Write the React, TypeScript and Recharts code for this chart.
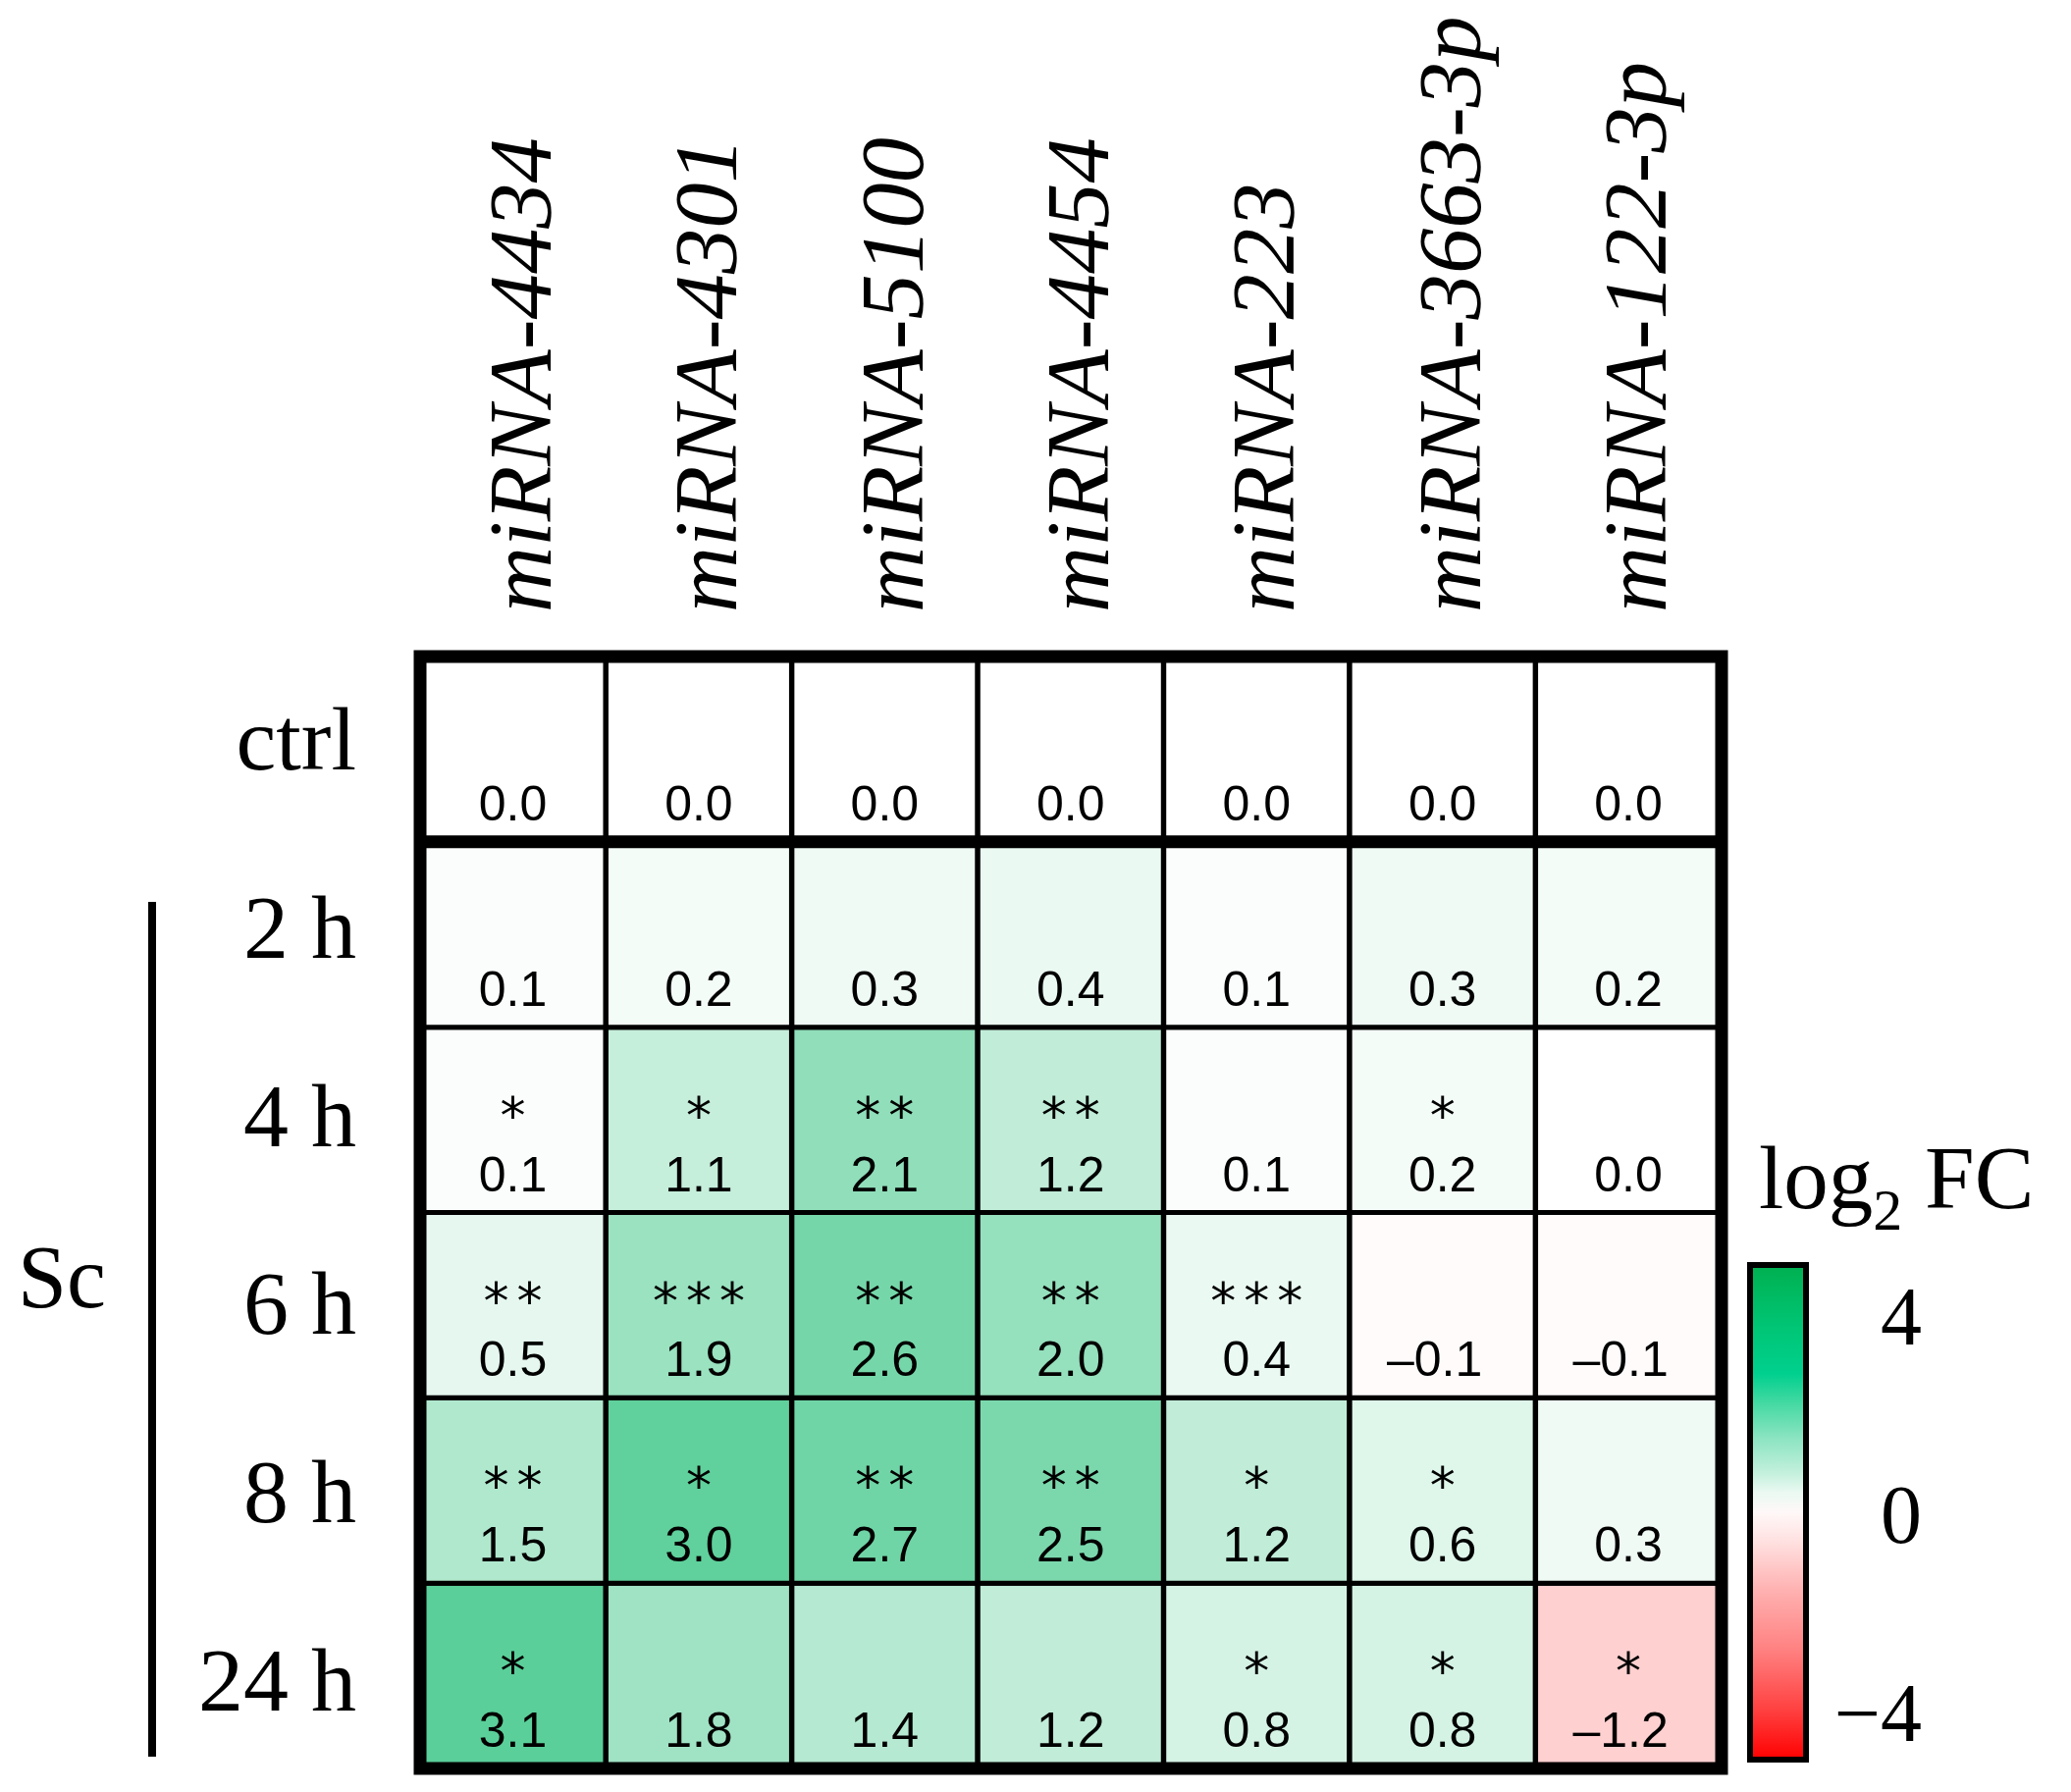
import React from 'react';
import { BarChart, Bar, XAxis, YAxis, Cell, LabelList, ReferenceLine, ReferenceArea } from 'recharts';

// ---------- data ----------
const miRNAs = ['miRNA-4434', 'miRNA-4301', 'miRNA-5100', 'miRNA-4454', 'miRNA-223', 'miRNA-3663-3p', 'miRNA-122-3p'];
const rowLabels = ['ctrl', '2 h', '4 h', '6 h', '8 h', '24 h'];

const ctrlValues = [0.0, 0.0, 0.0, 0.0, 0.0, 0.0, 0.0];
const h2Values = [0.1, 0.2, 0.3, 0.4, 0.1, 0.3, 0.2];
const h4Values = [0.1, 1.1, 2.1, 1.2, 0.1, 0.2, 0.0];
const h6Values = [0.5, 1.9, 2.6, 2.0, 0.4, -0.1, -0.1];
const h8Values = [1.5, 3.0, 2.7, 2.5, 1.2, 0.6, 0.3];
const h24Values = [3.1, 1.8, 1.4, 1.2, 0.8, 0.8, -1.2];

const ctrlStars = ['', '', '', '', '', '', ''];
const h2Stars = ['', '', '', '', '', '', ''];
const h4Stars = ['*', '*', '**', '**', '', '*', ''];
const h6Stars = ['**', '***', '**', '**', '***', '', ''];
const h8Stars = ['**', '*', '**', '**', '*', '*', ''];
const h24Stars = ['*', '', '', '', '*', '*', '*'];

const legendTicks = [4, 0, -4];
const legendTitle = 'log';
const legendSub = '2';
const legendTitleEnd = ' FC';
const groupLabel = 'Sc';

// rows top -> bottom
const rowValues = [ctrlValues, h2Values, h4Values, h6Values, h8Values, h24Values];
const rowStars = [ctrlStars, h2Stars, h4Stars, h6Stars, h8Stars, h24Stars];
const N_ROWS = rowLabels.length;

// table for the library: one entry per miRNA column, each row is a unit-height stacked segment
const table = miRNAs.map((name, i) => {
  const o: any = { name };
  for (let k = 0; k < N_ROWS; k++) {
    o[`cell_${k}`] = 1;
    o[`val_${k}`] = rowValues[k][i];
    o[`sig_${k}`] = rowStars[k][i];
  }
  return o;
});

// ---------- colour scale (read from cells) ----------
const POS_COLOR = [91, 207, 153]; // at +3.1
const POS_MAX = 3.1;
const NEG_COLOR = [255, 208, 208]; // at -1.2
const NEG_MAX = 1.2;
function cellColor(v: number) {
  const target = v >= 0 ? POS_COLOR : NEG_COLOR;
  const t = Math.min(1, v >= 0 ? v / POS_MAX : -v / NEG_MAX);
  const c = target.map((ch) => Math.round(255 + (ch - 255) * t));
  return `rgb(${c[0]},${c[1]},${c[2]})`;
}

const SERIF = '"Liberation Serif", "Times New Roman", serif';
const SANS = '"Liberation Sans", Arial, sans-serif';
const STAR_FONT = '"DejaVu Sans", sans-serif';

function fmt(v: number) {
  return v < 0 ? '\u2013' + Math.abs(v).toFixed(1) : v.toFixed(1);
}

function box(props: any) {
  const vb = props.viewBox && props.viewBox.width !== undefined ? props.viewBox : props;
  const x = Math.min(vb.x, vb.x + vb.width);
  const y = Math.min(vb.y, vb.y + vb.height);
  return { x, y, w: Math.abs(vb.width), h: Math.abs(vb.height) };
}

const ValueLabel = (props: any) => {
  const { value } = props;
  if (value === undefined || value === null || value === '') return null;
  const b = box(props);
  const cx = b.x + b.w / 2 + (value < 0 ? -8 : 0);
  const by = b.y + b.h - 22;
  return (
    <text x={cx} y={by} textAnchor="middle" fontFamily={SANS} fontSize={50} fill="#000">
      {fmt(value)}
    </text>
  );
};

const StarLabel = (props: any) => {
  const { value } = props;
  if (!value) return null;
  const b = box(props);
  const cx = b.x + b.w / 2 + 4;
  const by = b.y + 108;
  return (
    <text x={cx} y={by} textAnchor="middle" fontFamily={STAR_FONT} fontSize={52} letterSpacing={8} fill="#000">
      {value}
    </text>
  );
};

const ColumnTick = (props: any) => {
  const { x, y, payload } = props;
  return (
    <text
      transform={`translate(${x + 38},${y}) rotate(-90) scale(1.03,1)`}
      textAnchor="start"
      fontFamily={SERIF}
      fontStyle="italic"
      fontSize={90}
      fill="#000"
    >
      {payload.value}
    </text>
  );
};

const RowTick = (props: any) => {
  const { x, y, payload } = props;
  const idx = N_ROWS - 1 - Math.floor(payload.value);
  return (
    <text x={x} y={y + 21 + idx * 2.8} textAnchor="end" fontFamily={SERIF} fontSize={92} fill="#000">
      {rowLabels[idx]}
    </text>
  );
};

const rowTicks = rowLabels.map((_, k) => k + 0.5);

// legend geometry
const CB = { x: 1783, y: 1289, w: 57, h: 504 };
const legendY = (v: number) => 1543 - v * 50.5;

export default function App() {
  // bars declared bottom-up so that row 0 (ctrl) ends on top
  const order = rowLabels.map((_, k) => N_ROWS - 1 - k);
  return (
    <div style={{ position: 'absolute', left: 0, top: 0, width: 2110, height: 1826, background: '#fff' }}>
      <BarChart
        width={2110}
        height={1826}
        data={table}
        margin={{ top: 569, right: 356, bottom: 24, left: 328 }}
        barCategoryGap={0}
        barGap={0}
      >
        <defs>
          <linearGradient id="fcGrad" x1="0" y1="0" x2="0" y2="1">
            <stop offset="0%" stopColor="#00B050" />
            <stop offset="13%" stopColor="#00C676" />
            <stop offset="22%" stopColor="#00D08E" />
            <stop offset="28%" stopColor="#45D9A3" />
            <stop offset="35%" stopColor="#8BE4C2" />
            <stop offset="42%" stopColor="#C3F0DD" />
            <stop offset="46%" stopColor="#EAF9F2" />
            <stop offset="50%" stopColor="#FFF8F8" />
            <stop offset="56%" stopColor="#FFE0E0" />
            <stop offset="66%" stopColor="#FFB0B0" />
            <stop offset="78%" stopColor="#FF8080" />
            <stop offset="90%" stopColor="#FF4040" />
            <stop offset="100%" stopColor="#FF0000" />
          </linearGradient>
        </defs>
        <XAxis
          dataKey="name"
          type="category"
          orientation="top"
          height={100}
          axisLine={false}
          tickLine={false}
          tickSize={0}
          tickMargin={45}
          interval={0}
          tick={<ColumnTick />}
        />
        <YAxis
          type="number"
          domain={[0, N_ROWS]}
          ticks={rowTicks}
          width={100}
          axisLine={false}
          tickLine={false}
          tickSize={0}
          tickMargin={65}
          interval={0}
          tick={<RowTick />}
        />
        {order.map((k) => (
          <Bar
            key={k}
            dataKey={`cell_${k}`}
            stackId="grid"
            stroke="#000"
            strokeWidth={5}
            isAnimationActive={false}
          >
            {table.map((_, i) => (
              <Cell key={i} fill={cellColor(rowValues[k][i])} />
            ))}
            <LabelList dataKey={`sig_${k}`} content={<StarLabel />} />
            <LabelList dataKey={`val_${k}`} content={<ValueLabel />} />
          </Bar>
        ))}
        <ReferenceLine y={N_ROWS - 1} stroke="#000" strokeWidth={13} zIndex={1500} />
        <ReferenceArea y1={0} y2={N_ROWS} fill="none" fillOpacity={0} stroke="#000" strokeWidth={13} zIndex={1500} />

        {/* group label and bracket line */}
        <text x={18} y={1332} fontFamily={SERIF} fontSize={90} fill="#000">{groupLabel}</text>
        <line x1={155} x2={155} y1={919} y2={1790} stroke="#000" strokeWidth={8} />

        {/* colour legend */}
        <text x={1792} y={1231} fontFamily={SERIF} fontSize={91} fill="#000">
          {legendTitle}
          <tspan fontSize={60} dy={22}>{legendSub}</tspan>
          <tspan dy={-22}>{legendTitleEnd}</tspan>
        </text>
        <rect x={CB.x} y={CB.y} width={CB.w} height={CB.h} fill="url(#fcGrad)" stroke="#000" strokeWidth={6} />
        {legendTicks.map((t) => (
          <text key={t} x={1958} y={legendY(t) + 29} textAnchor="end" fontFamily={SERIF} fontSize={84} fill="#000">
            {t < 0 ? '\u2212' + Math.abs(t) : String(t)}
          </text>
        ))}
      </BarChart>
    </div>
  );
}
